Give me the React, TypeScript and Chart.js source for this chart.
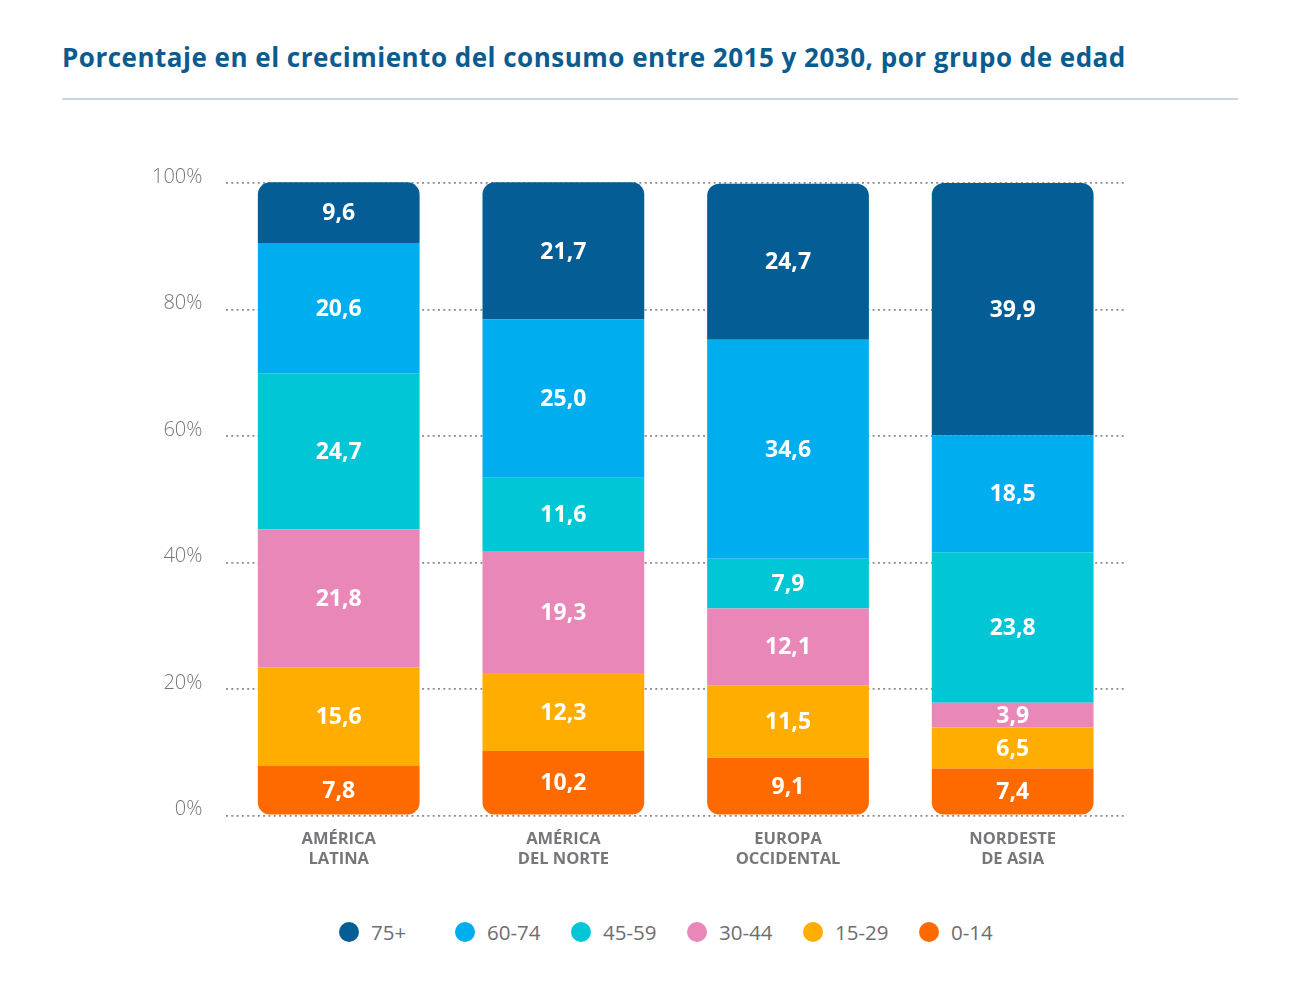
import { useEffect, useRef } from 'react';
import { Chart, registerables, type Plugin } from 'chart.js';

Chart.register(...registerables);

// ── Data ─────────────────────────────────────────────────────────────────────

const title = 'Porcentaje en el crecimiento del consumo entre 2015 y 2030, por grupo de edad';
const regions = [
  ['AMÉRICA', 'LATINA'],
  ['AMÉRICA', 'DEL NORTE'],
  ['EUROPA', 'OCCIDENTAL'],
  ['NORDESTE', 'DE ASIA'],
];
// stacked bottom → top
const ageGroups = ['0-14', '15-29', '30-44', '45-59', '60-74', '75+'];
const ageColors = ['#FF6A00', '#FFAD00', '#EA87B9', '#00C6D6', '#00AEEF', '#045D94'];
const age0to14 = [7.8, 10.2, 9.1, 7.4];
const age15to29 = [15.6, 12.3, 11.5, 6.5];
const age30to44 = [21.8, 19.3, 12.1, 3.9];
const age45to59 = [24.7, 11.6, 7.9, 23.8];
const age60to74 = [20.6, 25.0, 34.6, 18.5];
const age75plus = [9.6, 21.7, 24.7, 39.9];
const seriesValues = [age0to14, age15to29, age30to44, age45to59, age60to74, age75plus];
const yMax = 100;
const yStep = 20;

const FONT = '"Open Sans", "DejaVu Sans", sans-serif';

const fmt = (v: number) => v.toFixed(1).replace('.', ',');

// ── Value labels inside each segment ─────────────────────────────────────────

const valueLabels: Plugin<'bar'> = {
  id: 'valueLabels',
  afterDatasetsDraw(chart) {
    const { ctx } = chart;
    ctx.save();
    ctx.font = `700 23px ${FONT}`;
    ctx.fillStyle = '#ffffff';
    ctx.textAlign = 'center';
    ctx.textBaseline = 'middle';
    chart.data.datasets.forEach((ds, di) => {
      const meta = chart.getDatasetMeta(di);
      meta.data.forEach((el, i) => {
        const { x, y, base } = el.getProps(['x', 'y', 'base'], true) as { x: number; y: number; base: number };
        ctx.fillText(fmt(ds.data[i] as number), x, (y + base) / 2 + 1);
      });
    });
    ctx.restore();
  },
};

export default function App() {
  const canvasRef = useRef<HTMLCanvasElement>(null);

  useEffect(() => {
    document.body.style.margin = '0';
    if (!canvasRef.current) return;
    const last = seriesValues.length - 1;

    const chart = new Chart(canvasRef.current, {
      type: 'bar',
      data: {
        labels: regions,
        datasets: seriesValues.map((vals, i) => ({
          label: ageGroups[i],
          data: vals,
          backgroundColor: ageColors[i],
          borderWidth: 0,
          borderSkipped: false,
          borderRadius: i === 0
            ? { topLeft: 0, topRight: 0, bottomLeft: 12, bottomRight: 12 }
            : i === last
              ? { topLeft: 12, topRight: 12, bottomLeft: 0, bottomRight: 0 }
              : 0,
          categoryPercentage: 1,
          barPercentage: 0.72,
          clip: false,
        })),
      },
      options: {
        responsive: true,
        maintainAspectRatio: false,
        animation: false,
        layout: { padding: { left: 128, right: 167, top: 183, bottom: 12 } },
        plugins: {
          legend: { display: false },
          tooltip: { enabled: false },
        },
        scales: {
          x: {
            stacked: true,
            grid: { display: false },
            border: { display: false },
            ticks: {
              color: '#76777a',
              font: { family: FONT, size: 16.5, weight: 'bold', lineHeight: 1.2 },
              padding: 6,
              maxRotation: 0,
            },
          },
          y: {
            stacked: true,
            min: 0,
            max: yMax,
            grid: { color: '#8c8c8c', lineWidth: 1.8, drawTicks: false },
            border: { display: false, dash: [2, 3.3] },
            ticks: {
              stepSize: yStep,
              color: '#777777',
              font: { family: FONT, size: 20, weight: 300 },
              padding: 24,
              labelOffset: -6,
              callback: (v) => `${v}%`,
            },
          },
        },
      },
      plugins: [valueLabels],
    });

    return () => { chart.destroy(); };
  }, []);

  return (
    <div style={{ position: 'relative', width: 1292, height: 998, background: '#fff', fontFamily: FONT, overflow: 'hidden' }}>
      <div style={{
        position: 'absolute', left: 62, top: 42, fontSize: 26, lineHeight: '30px', letterSpacing: 0.5,
        fontWeight: 700, color: '#0A5B8F', whiteSpace: 'nowrap',
      }}>
        {title}
      </div>
      <div style={{ position: 'absolute', left: 62, top: 98, width: 1176, height: 2, background: '#C8D6E3' }} />

      <div style={{ position: 'absolute', left: 0, top: 0, width: 1292, height: 887 }}>
        <canvas ref={canvasRef} />
      </div>

      {/* Legend */}
      <div style={{ position: 'absolute', left: 339, top: 920, height: 24, display: 'flex', alignItems: 'center', gap: 25 }}>
        {[...ageGroups].reverse().map((g, i) => (
          <div key={g} style={{ display: 'flex', alignItems: 'center', minWidth: 91 }}>
            <span style={{
              display: 'inline-block', width: 20, height: 20, borderRadius: '50%',
              background: ageColors[ageColors.length - 1 - i], marginRight: 12,
            }} />
            <span style={{ fontSize: 20.5, color: '#6d6e71', fontWeight: 400 }}>{g}</span>
          </div>
        ))}
      </div>
    </div>
  );
}
